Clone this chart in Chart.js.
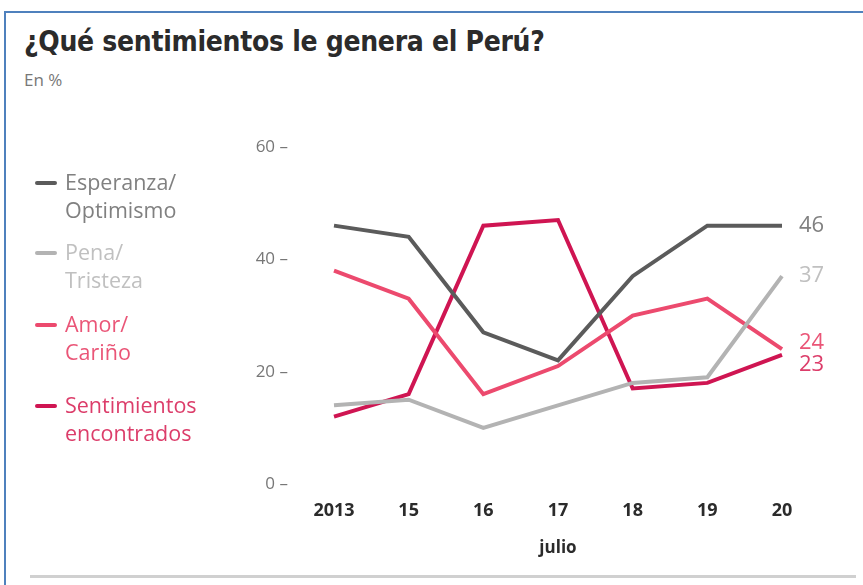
<!DOCTYPE html>
<html>
<head>
<meta charset="utf-8">
<script src="https://cdn.jsdelivr.net/npm/chart.js@4"></script>
<style>
  html, body { margin: 0; padding: 0; background: #fff; }
  #wrap { position: relative; width: 863px; height: 585px; overflow: hidden; font-family: "Open Sans", "Liberation Sans", sans-serif; }
  #frame { position: absolute; left: 4px; top: 11px; width: 900px; height: 700px; border-left: 2px solid #4f81bd; border-top: 2px solid #4f81bd; }
  #titulo { position: absolute; left: 24px; top: 25px; font-family: "Liberation Sans Narrow", "DejaVu Sans Condensed", sans-serif; font-weight: bold; font-size: 28px; color: #2b2b2b; white-space: nowrap; letter-spacing: -0.3px; }
  #sub { position: absolute; left: 24px; top: 68px; font-size: 17px; color: #777; }
  .item { position: absolute; left: 35px; padding-left: 30px; font-size: 21.5px; line-height: 28px; white-space: nowrap; }
  .item i { position: absolute; left: 0; top: 13px; width: 22px; height: 4px; border-radius: 2px; }
  #linea { position: absolute; left: 30px; top: 575px; width: 826px; height: 3px; background: #d0d0d0; }
  canvas { position: absolute; left: 0; top: 0; }
</style>
</head>
<body>
<div id="wrap">
  <div id="frame"></div>
  <div id="titulo">¿Qué sentimientos le genera el Perú?</div>
  <div id="sub">En %</div>
  <div id="linea"></div>
  <canvas id="grafico" width="863" height="585"></canvas>
</div>
<script>
// Datos de la encuesta
const fechas = ['2013', '15', '16', '17', '18', '19', '20'];
const esperanza = [46, 44, 27, 22, 37, 46, 46];
const pena = [14, 15, 10, 14, 18, 19, 37];
const amor = [38, 33, 16, 21, 30, 33, 24];
const encontrados = [12, 16, 46, 47, 17, 18, 23];
const ticksY = [0, 20, 40, 60];

const series = [
    { nombre: ['Esperanza/', 'Optimismo'], datos: esperanza, linea: '#5b5b5b', texto: '#808080', top: 168, ajuste: 0 },
    { nombre: ['Pena/', 'Tristeza'], datos: pena, linea: '#b3b3b3', texto: '#c0c0c0', top: 238, ajuste: 0 },
    { nombre: ['Amor/', 'Cariño'], datos: amor, linea: '#ec4a6e', texto: '#ea5577', top: 310, ajuste: -6 },
    { nombre: ['Sentimientos', 'encontrados'], datos: encontrados, linea: '#cf1552', texto: '#dc3d6a', top: 391, ajuste: 10 }
];

// Leyenda a la izquierda
const wrap = document.getElementById('wrap');
series.forEach(s => {
    const div = document.createElement('div');
    div.className = 'item';
    div.style.top = s.top + 'px';
    div.style.color = s.texto;
    div.innerHTML = `<i style="background:${s.linea}"></i>${s.nombre.join('<br>')}`;
    wrap.appendChild(div);
});

// Valor final al lado derecho de cada linea
const etiquetasFinales = {
    id: 'etiquetasFinales',
    afterDatasetsDraw(chart) {
        const ctx = chart.ctx;
        ctx.save();
        ctx.font = '22px "Open Sans", sans-serif';
        ctx.textBaseline = 'middle';
        chart.data.datasets.forEach((ds, i) => {
            const meta = chart.getDatasetMeta(i);
            const p = meta.data[meta.data.length - 1];
            ctx.fillStyle = series[i].texto;
            ctx.fillText(ds.data[ds.data.length - 1], p.x + 17, p.y + series[i].ajuste);
        });
        ctx.restore();
    }
};

const ctx = document.getElementById('grafico').getContext('2d');
new Chart(ctx, {
    type: 'line',
    data: {
        labels: fechas,
        datasets: series.map(s => ({
            data: s.datos,
            borderColor: s.linea,
            borderWidth: 4,
            pointRadius: 0,
            tension: 0,
            fill: false
        }))
    },
    options: {
        responsive: false,
        animation: false,
        layout: { padding: { top: 147, right: 81, bottom: 16, left: 0 } },
        plugins: { legend: { display: false }, tooltip: { enabled: false } },
        scales: {
            x: {
                offset: false,
                grid: { display: false, drawTicks: false },
                border: { display: false },
                ticks: { color: '#2b2b2b', padding: 16, font: { family: 'Open Sans', size: 18, weight: 'bold' } },
                title: { display: true, text: 'julio', color: '#2b2b2b', font: { family: 'Open Sans', size: 17, weight: 'bold' }, padding: { top: 0, bottom: 11 } },
                afterFit(scale) { scale.height = 85; }
            },
            y: {
                min: 0,
                max: 60,
                afterBuildTicks(scale) { scale.ticks = ticksY.map(v => ({ value: v })); },
                grid: { display: false, drawTicks: false },
                border: { display: false },
                ticks: { color: '#777', padding: 46, font: { family: 'Open Sans', size: 17 }, callback: v => v + ' –' },
                afterFit(scale) { scale.width = 334; }
            }
        }
    },
    plugins: [etiquetasFinales]
});
</script>
</body>
</html>
